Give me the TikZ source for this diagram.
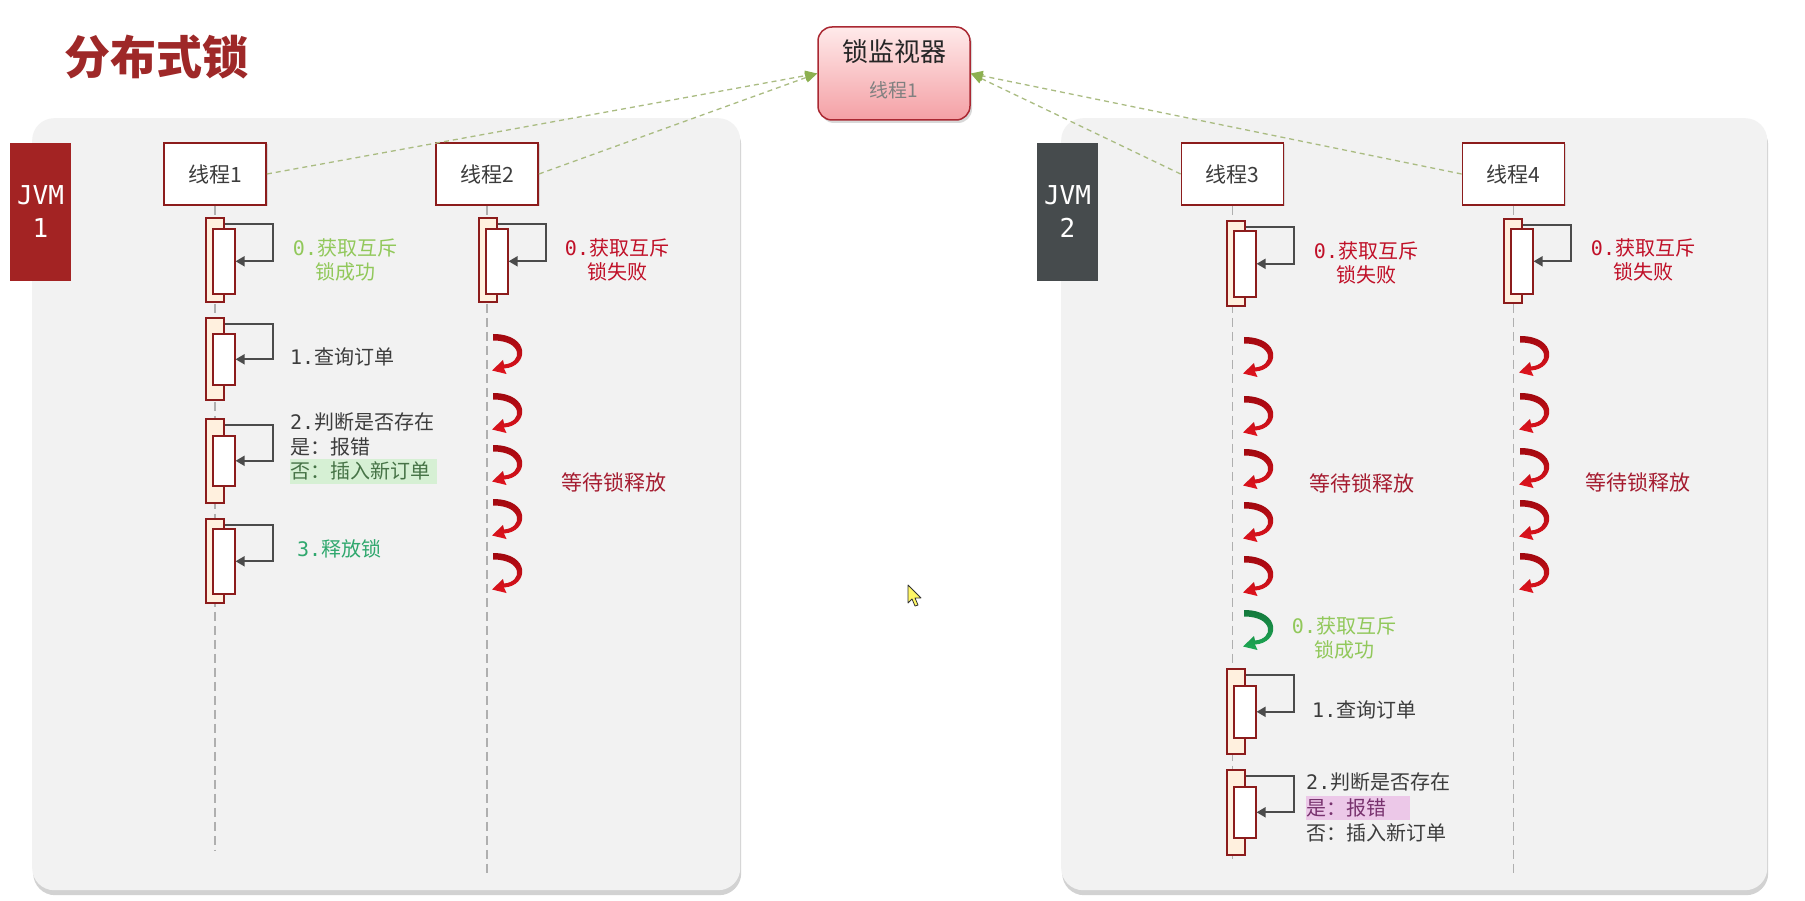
\documentclass[tikz,border=0pt]{standalone}
\usepackage{fontspec}
\newfontfamily\cjk{Noto Sans CJK SC}
\newfontfamily\mono{DejaVu Sans Mono}
\usetikzlibrary{arrows.meta,shadows}
\definecolor{boxred}{RGB}{140,28,28}
\definecolor{titlered}{RGB}{158,40,40}
\definecolor{jvmred}{RGB}{163,35,35}
\definecolor{jvmgray}{RGB}{70,75,77}
\definecolor{cream}{RGB}{255,240,222}
\definecolor{selfgray}{RGB}{75,75,75}
\definecolor{failred}{RGB}{192,16,40}
\definecolor{okgreen}{RGB}{145,200,90}
\definecolor{relgreen}{RGB}{48,168,110}
\definecolor{waitred}{RGB}{165,28,48}
\definecolor{txtgray}{RGB}{60,60,60}
\definecolor{hlgreen}{RGB}{214,240,212}
\definecolor{hlpink}{RGB}{236,200,232}
\definecolor{nogreen}{RGB}{70,115,70}
\definecolor{yespurple}{RGB}{120,50,110}
\definecolor{conngreen}{RGB}{170,188,130}
\definecolor{arrgreen}{RGB}{140,176,80}
\definecolor{linegray}{RGB}{175,175,175}
\definecolor{panelgray}{RGB}{242,242,242}
\definecolor{curlred}{RGB}{225,20,30}
\definecolor{curldark}{RGB}{160,8,15}
\definecolor{curlgreen}{RGB}{30,170,85}
\definecolor{curlgdark}{RGB}{20,120,60}
\definecolor{montop}{RGB}{255,234,234}
\definecolor{monbot}{RGB}{244,160,165}
\definecolor{monborder}{RGB}{170,40,50}
\newcommand\actv[6]{%
  \node[actout, minimum height=#4pt, anchor=north west] (#1o) at (#2-9,#3) {};
  \node[actin, minimum height=#6pt, anchor=north west] (#1i) at (#2-2,#5) {};
  \draw[selfarr] ([yshift=-7pt]#1o.north east) -- ++(48,0) |- (#1i.east);
}
% curved waiting arrow: left x, centre y, dark colour, light colour
\newcommand\curl[4]{%
  \path[top color=#3, bottom color=#4, draw=none]
    (#1,#2-21) .. controls (#1+38,#2-21) and (#1+36,#2+12) .. (#1+11,#2+13.5)
    -- (#1+13.5,#2+19) -- (#1-1,#2+15.5) -- (#1+10,#2+5) -- (#1+11,#2+9.5)
    .. controls (#1+30,#2+8) and (#1+30,#2-14.5) .. (#1,#2-14.5) -- cycle;
}
\begin{document}
\begin{tikzpicture}[x=1pt,y=-1pt,
  panel/.style={fill=panelgray, rounded corners=22pt, inner sep=0pt,
    drop shadow={shadow xshift=1pt, shadow yshift=-5pt, opacity=0.35}},
  thread/.style={draw=boxred, line width=1.8pt, fill=white, minimum width=102pt,
    minimum height=62pt, inner sep=0pt, text=txtgray,
    font=\cjk\fontsize{21}{24}\selectfont,
    drop shadow={shadow xshift=1.5pt, shadow yshift=-1.5pt, opacity=0.25}},
  jvm/.style={minimum width=61pt, minimum height=138pt, inner sep=0pt, text=white,
    align=center, font=\mono\fontsize{26}{33}\selectfont},
  monitor/.style={draw=monborder, line width=1.5pt, rounded corners=14pt,
    top color=montop, bottom color=monbot, minimum width=152pt, minimum height=93pt,
    drop shadow={shadow xshift=2pt, shadow yshift=-3pt, opacity=0.3}},
  actout/.style={draw=boxred, line width=1.6pt, fill=cream, minimum width=18pt, inner sep=0pt},
  actin/.style={draw=boxred, line width=1.6pt, fill=white, minimum width=22pt, inner sep=0pt},
  selfarr/.style={draw=selfgray, line width=2pt, -{Triangle[length=9pt,width=10pt]}},
  conn/.style={draw=conngreen, line width=1.3pt, dash pattern=on 5pt off 4pt,
    -{Triangle[length=12pt,width=10pt,color=arrgreen]}},
  lifeline/.style={draw=linegray, line width=1.3pt, dash pattern=on 9pt off 5pt},
  lbl/.style={inner sep=0pt, font=\cjk\fontsize{20}{24}\selectfont},
]
\useasboundingbox (0,0) rectangle (1805,901);
\fill[white] (0,0) rectangle (1805,901);

% panels
\node[panel, minimum width=708pt, minimum height=772pt, anchor=north west] (p1) at (32,118) {};
\node[panel, minimum width=706pt, minimum height=772pt, anchor=north west] (p2) at (1061,118) {};

% title
\node[font=\cjk\bfseries\fontsize{46}{50}\selectfont, text=titlered] (title) at (156,57) {分布式锁};

% monitor
\node[monitor] (mon) at (894,73.5) {};
\node[font=\cjk\fontsize{26}{28}\selectfont, text=black!85] (monT) at (894,52) {锁监视器};
\node[font=\cjk\fontsize{19}{22}\selectfont, text=black!50] (monS) at (894,90) {线程1};

% thread boxes
\node[thread] (t1) at (215,174) {线程1};
\node[thread] (t2) at (487,174) {线程2};
\node[thread] (t3) at (1232.5,174) {线程3};
\node[thread] (t4) at (1513.5,174) {线程4};

% connectors to monitor
\draw[conn] (t1.east) -- (mon.west);
\draw[conn] (t2.east) -- (mon.west);
\draw[conn] (t3.west) -- (mon.east);
\draw[conn] (t4.west) -- (mon.east);

% JVM boxes
\node[jvm, fill=jvmred] (j1) at (40.5,212) {JVM\\1};
\node[jvm, fill=jvmgray] (j2) at (1067.5,212) {JVM\\2};

% lifelines
\coordinate (e1) at (215,850);
\coordinate (e2) at (487,875);
\coordinate (e3) at (1232.5,863);
\coordinate (e4) at (1513.5,877);
\draw[lifeline] (t1.south) -- (e1);
\draw[lifeline] (t2.south) -- (e2);
\draw[lifeline] (t3.south) -- (e3);
\draw[lifeline] (t4.south) -- (e4);

% activations thread 1
\actv{a1}{214}{217}{84}{228}{65}
\actv{a2}{214}{317}{82}{333}{51}
\actv{a3}{214}{418}{84}{435}{50}
\actv{a4}{214}{518}{84}{528}{65}
% thread 2
\actv{b1}{487}{217}{84}{228}{65}
% thread 3
\actv{c1}{1235}{220}{85}{230}{66}
\actv{c2}{1235}{668}{85}{685}{52}
\actv{c3}{1235}{769}{85}{786}{51}
% thread 4
\actv{d1}{1512}{218}{84}{228}{65}

% waiting arrows
\curl{493}{355}{curldark}{curlred}
\curl{493}{414}{curldark}{curlred}
\curl{493}{466}{curldark}{curlred}
\curl{493}{520}{curldark}{curlred}
\curl{493}{574}{curldark}{curlred}
\curl{1244}{358}{curldark}{curlred}
\curl{1244}{417}{curldark}{curlred}
\curl{1244}{470}{curldark}{curlred}
\curl{1244}{523}{curldark}{curlred}
\curl{1244}{577}{curldark}{curlred}
\curl{1244}{631}{curlgdark}{curlgreen}
\curl{1520}{357}{curldark}{curlred}
\curl{1520}{414}{curldark}{curlred}
\curl{1520}{469}{curldark}{curlred}
\curl{1520}{521}{curldark}{curlred}
\curl{1520}{574}{curldark}{curlred}

% labels thread 1
\node[lbl, text=okgreen, align=center] (l10) at (345,260) {{\mono 0.}获取互斥\\锁成功};
\node[lbl, text=txtgray, anchor=west] (l11) at (290,357) {{\mono 1.}查询订单};
\node[lbl, text=txtgray, anchor=west] (l12a) at (290,422) {{\mono 2.}判断是否存在};
\node[lbl, text=txtgray, anchor=west] (l12b) at (290,447) {是：报错};
\node[lbl, text=nogreen, anchor=west, fill=hlgreen, minimum height=25pt, align=left, text width=147pt] (l12c) at (290,471) {否：插入新订单};
\node[lbl, text=relgreen, anchor=west] (l13) at (297,549) {{\mono 3.}释放锁};
% labels thread 2
\node[lbl, text=failred, align=center] (l20) at (617,260) {{\mono 0.}获取互斥\\锁失败};
\node[lbl, text=waitred, font=\cjk\fontsize{21}{24}\selectfont] (l2w) at (614,482) {等待锁释放};
% labels thread 3
\node[lbl, text=failred, align=center] (l30) at (1366,263) {{\mono 0.}获取互斥\\锁失败};
\node[lbl, text=waitred, font=\cjk\fontsize{21}{24}\selectfont] (l3w) at (1362,483) {等待锁释放};
\node[lbl, text=okgreen, align=center] (l3ok) at (1344,638) {{\mono 0.}获取互斥\\锁成功};
\node[lbl, text=txtgray, anchor=west] (l31) at (1312,710) {{\mono 1.}查询订单};
\node[lbl, text=txtgray, anchor=west] (l32a) at (1306,782) {{\mono 2.}判断是否存在};
\node[lbl, text=yespurple, anchor=west, fill=hlpink, minimum height=24pt, text width=104pt, align=left] (l32b) at (1306,808) {是：报错};
\node[lbl, text=txtgray, anchor=west] (l32c) at (1306,833) {否：插入新订单};
% labels thread 4
\node[lbl, text=failred, align=center] (l40) at (1643,260) {{\mono 0.}获取互斥\\锁失败};
\node[lbl, text=waitred, font=\cjk\fontsize{21}{24}\selectfont] (l4w) at (1638,482) {等待锁释放};

% mouse cursor
\draw[fill=yellow!60!white, draw=black!80, line width=0.8pt, line join=round]
  (908,585) -- (908,603) -- (912,599) -- (915,606) -- (918,605) -- (915,598) -- (921,598) -- cycle;
\end{tikzpicture}
\end{document}
